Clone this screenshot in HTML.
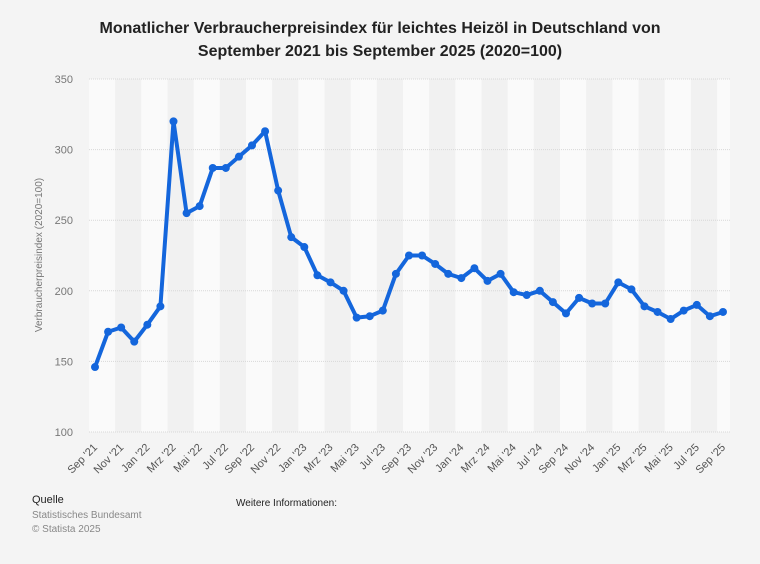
<!DOCTYPE html>
<html><head><meta charset="utf-8"><style>
html,body{margin:0;padding:0;background:#f4f4f4;font-family:"Liberation Sans",sans-serif;overflow:hidden;}
svg{display:block}
</style></head><body>
<svg width="760" height="564" xmlns="http://www.w3.org/2000/svg" font-family="Liberation Sans, sans-serif">
<rect width="760" height="564" fill="#f4f4f4"/>
<text x="380" y="33" text-anchor="middle" font-size="16" font-weight="bold" fill="#222">Monatlicher Verbraucherpreisindex für leichtes Heizöl in Deutschland von</text>
<text x="380" y="56" text-anchor="middle" font-size="16" font-weight="bold" fill="#222">September 2021 bis September 2025 (2020=100)</text>
<g id="bands"></g>
<g id="grid"></g>
<text transform="translate(42,255) rotate(-90)" text-anchor="middle" font-size="10" fill="#777">Verbraucherpreisindex (2020=100)</text>
<polyline id="line" fill="none" stroke="#1466dc" stroke-width="4" stroke-linejoin="round"/>
<g id="dots" fill="#1466dc"></g>
<g id="xl" font-size="11" fill="#555"></g>
<text x="32" y="503" font-size="11" fill="#222">Quelle</text>
<text x="32" y="518" font-size="10" fill="#888">Statistisches Bundesamt</text>
<text x="32" y="532" font-size="10" fill="#888">© Statista 2025</text>
<text x="236" y="506" font-size="10" fill="#222">Weitere Informationen:</text>
</svg>
<script>
const v=[146,171,174,164,176,189,320,255,260,287,287,295,303,313,271,238,231,211,206,200,181,182,186,212,225,225,219,212,209,216,207,212,199,197,200,192,184,195,191,191,206,201,189,185,180,186,190,182,185];
const ns="http://www.w3.org/2000/svg";
const X=i=>95+i*13.083, Y=val=>432-(val-100)*1.412;
const bands=document.getElementById('bands');
for(let k=0;k<25;k++){const x0=89+k*26.17;const w=Math.min(26.17,730-x0);if(w<=0)break;const r=document.createElementNS(ns,'rect');r.setAttribute('x',x0);r.setAttribute('y',79);r.setAttribute('width',w);r.setAttribute('height',353);r.setAttribute('fill',k%2?'#f1f1f1':'#fafafa');bands.appendChild(r);}
const g=document.getElementById('grid');
for(let t=100;t<=350;t+=50){const l=document.createElementNS(ns,'line');l.setAttribute('x1',89);l.setAttribute('x2',730);l.setAttribute('y1',Y(t));l.setAttribute('y2',Y(t));l.setAttribute('stroke','#d8d8d8');l.setAttribute('stroke-dasharray','1,1');g.appendChild(l);
const tx=document.createElementNS(ns,'text');tx.setAttribute('x',73);tx.setAttribute('y',Y(t)+4);tx.setAttribute('text-anchor','end');tx.setAttribute('font-size','11');tx.setAttribute('fill','#777');tx.textContent=t;g.appendChild(tx);}
document.getElementById('line').setAttribute('points',v.map((a,i)=>X(i)+','+Y(a)).join(' '));
const d=document.getElementById('dots');
v.forEach((a,i)=>{const c=document.createElementNS(ns,'circle');c.setAttribute('cx',X(i));c.setAttribute('cy',Y(a));c.setAttribute('r',4);d.appendChild(c);});
const m=['Sep','Nov','Jan','Mrz','Mai','Jul'];
const xl=document.getElementById('xl');
for(let k=0;k<25;k++){const i=k*2;const mon=m[k%6];const yr=21+Math.floor((i+8)/12);const t=document.createElementNS(ns,'text');const x=X(i)+3,y=448;t.setAttribute('transform',`translate(${x},${y}) rotate(-45)`);t.setAttribute('text-anchor','end');t.textContent=mon+" '"+yr;xl.appendChild(t);}
</script>
</body></html>
